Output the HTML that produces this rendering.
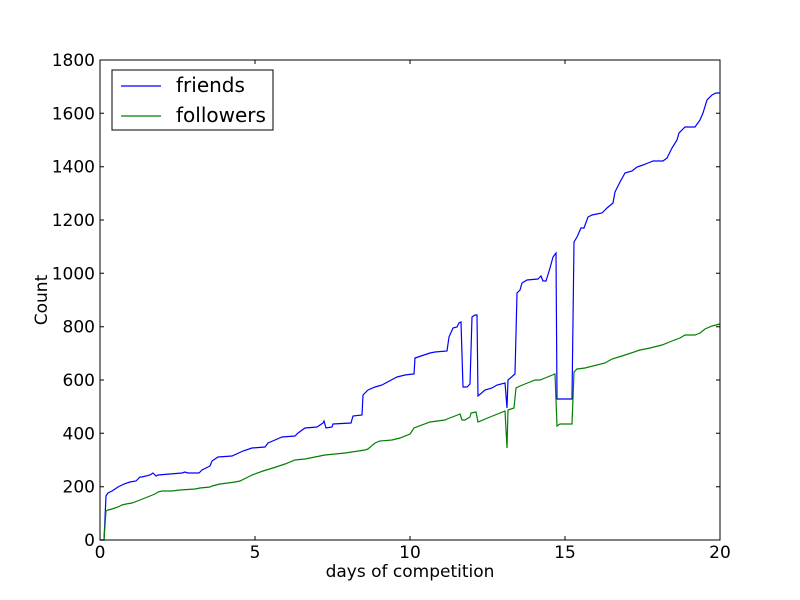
<!DOCTYPE html>
<html><head><style>body{margin:0;background:#fff}svg{display:block}text{font-family:"DejaVu Sans","Liberation Sans",sans-serif;fill:#000}</style></head><body>
<svg width="800" height="600" viewBox="0 0 800 600" xmlns="http://www.w3.org/2000/svg">
<rect width="800" height="600" fill="#fff"/>
<g stroke="#000" stroke-width="1">
<path d="M100,540v-4M255,540v-4M410,540v-4M565,540v-4M720,540v-4M100,60v4M255,60v4M410,60v4M565,60v4M720,60v4"/>
<path d="M100,540h4M100,486.7h4M100,433.3h4M100,380h4M100,326.7h4M100,273.3h4M100,220h4M100,166.7h4M100,113.3h4M100,60h4M720,540h-4M720,486.7h-4M720,433.3h-4M720,380h-4M720,326.7h-4M720,273.3h-4M720,220h-4M720,166.7h-4M720,113.3h-4M720,60h-4"/>
</g>
<polyline fill="none" stroke="#0000ff" stroke-width="1.2" points="100,540 104,540 106,496 108,493 112,491 118,487 120,486 124,484 130,482 136,481 140,477 142,477 150,475 153,473 155,475 156,476 158,475 170,474 182,473 185,472 188,473 199,473 202,470 210,466 212,461 218,457 232,456 243,451 252,448 265,447 268,443 275,440 282,437 295,436 298,433 305,428 317,427 323,423 324,421 326,428 332,427 333,424 351,423 353,416 362,415 363,395 368,390 375,387 382,385 395,378 397,377 405,375 413,374 414,374 415,358 430,353 435,352 447,351 449,337 453,328 457,327 459,323 461,322 463,387 467,387 470,384 472,317 475,315 477,315 478,396 485,390 492,388 497,385 505,383 507,408 508,380 515,374 517,293 520,290 522,283 527,280 538,279 541,276 543,281 546,281 550,268 553,257 556,253 557,399 572,399 574,242 577,237 581,228 584,228 588,217 592,215 602,213 607,208 613,203 615,192 620,182 625,173 632,171 637,167 643,165 648,163 653,161 663,161 667,158 672,148 677,140 679,133 685,127 695,127 700,120 703,113 707,100 712,95 716,93 720,93"/>
<polyline fill="none" stroke="#008000" stroke-width="1.2" points="100,540 104,540 106,511 108,510 112,509 118,507 122,505 126,504 132,503 140,500 150,496 155,494 158,492 162,491 172,491 180,490 195,489 200,488 210,487 212,486 220,484 228,483 235,482 240,481 252,475 263,471 273,468 285,464 295,460 305,459 315,457 325,455 345,453 365,450 368,449 375,443 380,441 392,440 400,438 410,434 414,428 430,422 445,420 447,419 455,416 460,414 462,420 465,420 470,417 471,413 476,412 478,422 490,417 500,413 505,411 507,448 508,410 514,408 516,388 520,386 530,382 535,380 540,380 545,378 555,374 557,426 560,424 572,424 574,372 577,369 585,368 605,363 612,359 622,356 640,350 650,348 662,345 672,341 680,338 685,335 695,335 700,333 705,329 712,326 720,324"/>
<rect x="100" y="60" width="620" height="480" fill="none" stroke="#000" stroke-width="1"/>
<g font-size="17" text-anchor="middle">
<text x="100" y="558">0</text><text x="255" y="558">5</text><text x="410" y="558">10</text><text x="565" y="558">15</text><text x="720" y="558">20</text>
</g>
<g font-size="17" text-anchor="end">
<text x="95" y="546">0</text><text x="95" y="492.7">200</text><text x="95" y="439.3">400</text><text x="95" y="386">600</text><text x="95" y="332.7">800</text><text x="95" y="279.3">1000</text><text x="95" y="226">1200</text><text x="95" y="172.7">1400</text><text x="95" y="119.3">1600</text><text x="95" y="66">1800</text>
</g>
<text x="410" y="577" font-size="17" text-anchor="middle">days of competition</text>
<text x="47" y="300" font-size="17" text-anchor="middle" transform="rotate(-90 47 300)">Count</text>
<rect x="112" y="70" width="161" height="60" fill="#fff" stroke="#000" stroke-width="1"/>
<line x1="121" y1="86" x2="161" y2="86" stroke="#0000ff" stroke-width="1.2"/>
<line x1="121" y1="116" x2="161" y2="116" stroke="#008000" stroke-width="1.2"/>
<text x="176" y="92" font-size="20">friends</text>
<text x="176" y="122" font-size="20">followers</text>
</svg>
</body></html>
